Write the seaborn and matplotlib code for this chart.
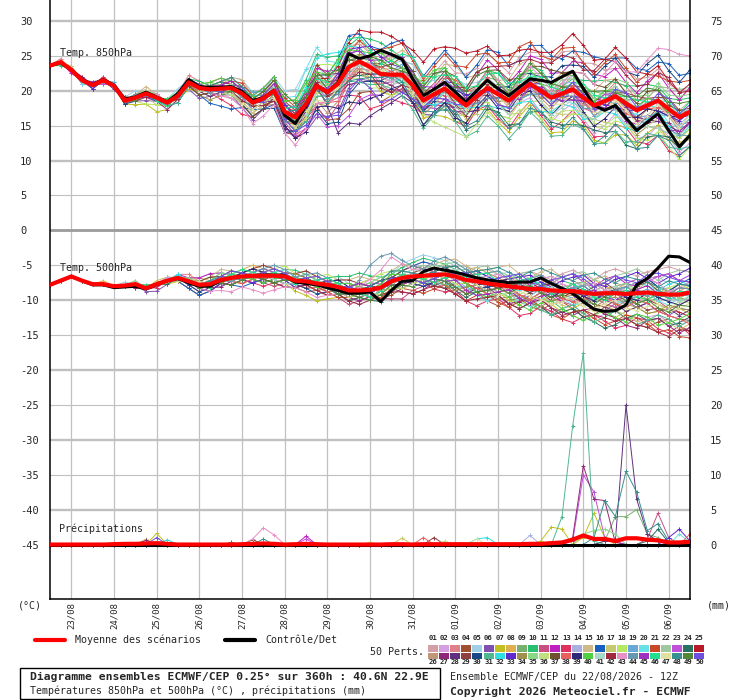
import numpy as np
import pandas as pd
import matplotlib
matplotlib.use("Agg")
import matplotlib.pyplot as plt
from matplotlib.patches import Rectangle
from matplotlib.lines import Line2D
import seaborn as sns

# échéances (h) du run 22/08 12Z
hours = list(range(0, 361, 6))

# moyenne et contrôle, T850 (°C)
mean850 = [23.6, 24.1, 23.0, 21.5, 20.8, 21.5, 20.7, 18.6, 19.0, 19.6, 19.0, 18.3, 19.3, 21.2,
           20.4, 20.2, 20.3, 20.4, 19.6, 18.3, 18.9, 20.0, 17.0, 16.2, 18.1, 20.7, 19.8, 21.0,
           23.4, 24.2, 23.4, 22.4, 22.3, 22.3, 20.8, 18.6, 19.5, 20.3, 19.1, 17.9, 19.2, 20.4,
           19.5, 18.6, 19.8, 21.0, 20.0, 19.0, 19.6, 20.2, 19.0, 17.9, 18.5, 19.2, 18.2, 17.2,
           17.9, 18.6, 17.4, 16.2, 17.0]
ctrl850 = [23.6, 24.0, 23.0, 21.6, 20.9, 21.6, 20.8, 18.8, 19.1, 19.8, 19.1, 18.4, 19.6, 21.6,
           20.6, 20.5, 20.5, 20.6, 19.9, 18.6, 19.0, 20.1, 16.5, 15.3, 17.8, 20.8, 19.8, 21.2,
           25.3, 24.6, 25.0, 25.8, 25.2, 24.5, 21.7, 19.3, 20.2, 21.2, 19.8, 18.4, 20.0, 21.5,
           20.3, 19.3, 20.5, 21.7, 21.5, 21.2, 22.0, 22.8, 20.3, 17.9, 17.2, 17.9, 16.1, 14.3,
           15.5, 16.7, 14.3, 12.0, 13.6]

# moyenne et contrôle, T500 (°C)
mean500 = [-7.8, -7.2, -6.6, -7.2, -7.7, -7.7, -8.0, -7.9, -7.7, -8.3, -7.7, -7.2, -6.8, -7.3,
           -7.8, -7.7, -7.1, -6.8, -6.6, -6.5, -6.5, -6.5, -6.6, -7.2, -7.3, -7.6, -7.8, -8.1,
           -8.6, -8.6, -8.5, -8.2, -7.3, -6.8, -6.6, -6.5, -6.4, -6.3, -6.6, -7.1, -7.3, -7.6,
           -7.8, -8.0, -8.2, -8.4, -8.4, -8.6, -8.7, -8.7, -8.9, -9.1, -9.0, -9.0, -9.1, -9.0,
           -8.9, -9.1, -9.2, -9.2, -8.9]
ctrl500 = [-7.8, -7.2, -6.6, -7.2, -7.8, -7.8, -8.2, -8.1, -8.0, -8.4, -7.8, -7.2, -6.9, -7.5,
           -8.0, -8.0, -7.2, -6.8, -6.6, -6.5, -6.4, -6.4, -6.5, -7.4, -7.6, -7.8, -8.2, -8.6,
           -9.0, -9.0, -8.8, -10.2, -8.6, -7.3, -7.2, -5.9, -5.4, -5.7, -6.0, -6.4, -6.8, -7.1,
           -7.3, -7.5, -7.4, -7.4, -6.8, -7.6, -8.3, -9.0, -10.2, -11.3, -11.6, -11.5, -10.7, -7.8,
           -6.9, -5.4, -3.7, -3.8, -4.6]

# précipitations moyenne / contrôle (mm)
mean_rr = [0.0, 0.0, 0.0, 0.0, 0.0, 0.0, 0.05, 0.1, 0.1, 0.15, 0.2, 0.1, 0.0, 0.0,
           0.0, 0.0, 0.0, 0.0, 0.05, 0.1, 0.15, 0.1, 0.0, 0.05, 0.1, 0.05, 0.0, 0.0,
           0.0, 0.0, 0.0, 0.0, 0.05, 0.05, 0.0, 0.05, 0.05, 0.05, 0.05, 0.05, 0.05, 0.05,
           0.05, 0.05, 0.05, 0.1, 0.1, 0.2, 0.3, 0.7, 1.3, 0.8, 0.8, 0.5, 0.9, 0.9,
           0.7, 0.6, 0.3, 0.3, 0.4]
ctrl_rr = [0.0] * 61

member_colors = ['#d4a0a8', '#d4a0e0', '#e08088', '#a05030', '#a0d0e8', '#8050b0', '#c0c020',
                 '#e0b050', '#78b070', '#28c070', '#c85080', '#c020c0', '#e03060', '#a8b0e0',
                 '#d0b888', '#1860c0', '#c8c870', '#b8e860', '#68a8d8', '#68e0e8', '#c84828',
                 '#a0c8a0', '#c050d8', '#287060', '#b81828', '#c09878', '#902878', '#603080',
                 '#904040', '#184888', '#50b890', '#30e0e0', '#6028d0', '#a09050', '#88d888',
                 '#c0e080', '#705030', '#e86060', '#302878', '#50d040', '#a8d8c8', '#a02840',
                 '#e890c8', '#6898b0', '#a030c0', '#20e090', '#e0e0a0', '#389090', '#508838',
                 '#7050e0']

day_hours = list(range(12, 361, 24))
day_labels = ['23/08', '24/08', '25/08', '26/08', '27/08', '28/08', '29/08', '30/08',
              '31/08', '01/09', '02/09', '03/09', '04/09', '05/09', '06/09']

# écart de chaque membre à la moyenne, en demi-degrés
dev850 = [
    [0,0,0,1,0,0,0, 1,0,-1,0,1,1,0, 0,-1,-2,-2,-3,-2,-1, 0,1,2,3,2,4,5, 6,5,4,6,5,4,6, 7,6,8,7,9,8,10, 9,8,10,9,11,10,12, 11,10,12,9,8,10,9, 8,9,7,8,6],
    [0,0,-1,0,0,0,1, 0,-1,0,0,-1,0,1, 1,0,-1,-3,-4,-3,-2, -3,-5,-6,-4,-2,-1,0, 2,1,-1,-2,-3,-2,-4, -3,-2,-4,-5,-3,-2,-4, -6,-5,-3,-4,-6,-7,-5, -4,-6,-8,-7,-5,-6,-8, -9,-7,-8,-10,-9],
    [0,1,0,0,0,1,0, 0,1,1,0,0,1,2, 2,1,2,3,2,1,2, 3,2,0,-2,1,3,4, 2,1,3,5,4,2,1, 0,-1,1,2,0,-2,-1, 1,3,2,0,-1,1,2, 4,3,1,2,4,5,3, 2,4,6,5,7],
    [0,0,0,0,-1,0,0, -1,0,0,-1,0,0,-1, -2,-1,0,1,0,-1,-2, -4,-6,-5,-3,-6,-8,-10, -12,-9,-7,-8,-6,-4,-5, -3,-2,-4,-3,-1,0,-2, -1,1,0,-2,-1,0,2, 1,-1,-3,-2,0,-1,-3, -4,-2,-1,-3,-2],
    [0,0,0,0,0,0,1, 1,2,1,0,1,2,1, 0,1,2,3,4,3,2, 4,6,8,10,6,4,3, 2,1,0,2,3,4,6, 5,4,3,5,6,4,3, 2,4,5,3,2,1,3, 4,2,0,1,3,2,0, -1,1,2,0,1],
    [0,0,0,-1,0,0,0, 0,-1,-2,-1,0,-1,-2, -3,-2,-1,-2,-4,-5,-3, -2,-4,-6,-8,-9,-7,-8, -6,-5,-4,-3,-2,-1,0, -2,-3,-1,0,-2,-4,-3, -1,0,-2,-3,-1,1,0, -2,-1,1,2,0,-1,1, 2,0,-2,-1,0],
    [0,0,1,0,0,0,0, -1,-2,-3,-4,-2,-1,-2, -1,0,-1,-2,-1,0,-1, -2,-3,-1,0,2,1,0, -1,-2,-3,-5,-6,-4,-3, -5,-6,-8,-7,-5,-4,-6, -8,-9,-7,-6,-8,-10,-11, -9,-8,-10,-12,-11,-9,-10, -8,-7,-9,-8,-6],
    [0,0,0,0,1,0,0, 0,1,0,-1,0,1,0, -1,-2,-1,0,1,2,1, 0,-1,-3,-2,0,2,3, 4,3,2,1,0,-1,1, 2,3,1,0,2,3,1, 0,-1,1,2,0,-2,-1, 0,2,1,-1,-2,0,1, -1,-2,0,1,-1],
    [0,0,0,0,0,0,0, 0,0,1,0,0,0,-1, 0,-1,-2,-1,0,-1,-2, -3,-2,-4,-5,-3,-1,0, -2,-4,-3,-1,1,2,0, -1,1,3,2,0,1,3, 4,2,1,3,5,4,2, 1,3,4,2,0,1,3, 2,0,-1,1,0],
    [0,-1,0,0,0,-1,0, 0,0,-1,0,1,0,1, 2,1,0,1,2,3,2, 1,3,5,7,9,10,8, 6,7,8,9,7,5,4, 3,5,6,4,2,3,5, 6,4,3,5,6,4,2, 3,5,7,6,4,5,7, 6,4,3,5,4],
    [0,0,0,1,0,0,0, 0,1,0,0,1,0,0, 1,2,3,2,1,0,1, 2,0,-2,-4,-6,-8,-6, -4,-2,-1,-3,-5,-4,-2, -1,0,-2,-4,-3,-1,0, -2,-4,-3,-1,0,2,1, -1,-3,-2,0,1,-1,-2, -4,-3,-1,-2,-3],
    [0,0,-1,0,0,0,0, 1,0,0,1,0,-1,0, 0,1,0,-1,-2,-1,0, 1,2,1,3,5,6,4, 3,4,2,0,-1,1,2, 4,6,5,3,4,6,8, 7,5,6,8,9,7,6, 8,10,9,7,8,6,5, 7,8,6,5,7],
    [0,0,0,0,0,1,0, -1,0,1,0,-1,0,1, 0,-1,-3,-5,-6,-4,-3, -2,-4,-6,-7,-5,-3,-4, -8,-10,-12,-9,-7,-8,-6, -4,-3,-5,-7,-6,-4,-5, -7,-8,-6,-5,-7,-9,-8, -6,-7,-9,-10,-8,-7,-9, -11,-10,-12,-11,-10],
    [0,0,0,0,0,0,0, 0,0,0,-1,0,0,0, -1,0,1,0,-1,0,1, 0,-1,0,1,2,0,-1, -2,-1,0,1,2,1,-1, -2,0,2,1,-1,-2,0, 1,3,2,0,-1,1,3, 2,0,-2,-1,1,0,-2, -3,-1,0,-2,-1],
    [0,0,1,0,0,0,0, 0,1,2,1,0,1,0, 1,2,1,3,4,2,1, 3,5,4,6,4,2,3, 5,6,4,3,5,7,8, 6,5,7,9,8,6,5, 4,6,8,7,5,4,6, 5,3,4,6,5,3,2, 4,3,1,2,3],
    [0,0,0,0,-1,0,0, 0,-1,0,0,-1,-2,-1, -2,-4,-5,-6,-4,-2,-3, -4,-2,-1,1,3,5,7, 9,8,6,7,9,10,8, 7,9,11,10,8,9,11, 12,10,9,11,13,12,10, 11,13,14,12,11,13,12, 10,11,13,12,11],
    [0,0,0,0,0,0,0, 1,0,-1,-2,-1,0,-1, 0,-1,0,-1,-2,-3,-2, -1,-3,-5,-4,-2,0,1, -1,-3,-4,-2,0,-1,-3, -4,-3,-1,-2,-4,-5,-3, -2,-4,-6,-5,-3,-4,-6, -7,-5,-4,-6,-8,-7,-5, -6,-8,-9,-7,-8],
    [0,0,0,0,0,0,0, 0,-1,-3,-2,-1,0,1, 0,1,2,1,0,-1,0, 1,0,2,4,6,8,5, 3,2,1,3,4,2,0, -2,-4,-6,-5,-3,-2,-4, -6,-5,-3,-2,-4,-6,-8, -7,-5,-6,-8,-7,-6,-8, -10,-9,-11,-12,-10],
    [0,0,0,0,0,0,1, 0,0,0,1,0,0,0, 0,1,0,1,2,3,2, 1,2,3,1,-1,0,2, 1,-1,-2,0,1,3,4, 2,1,3,2,1,-1,0, 2,1,-1,0,1,-1,-2, 0,-1,-3,-2,0,-1,-2, -3,-4,-2,-3,-4],
    [0,0,0,-1,0,0,0, 0,0,0,0,1,1,0, 1,0,-1,-2,-1,0,1, 2,4,6,10,11,9,6, 4,3,2,0,-2,-1,1, 0,-2,-1,1,0,-2,-3, -1,0,-2,-3,-1,0,-2, -4,-3,-1,0,-2,-3,-1, 0,-2,-4,-3,-2],
    [0,0,0,0,0,0,0, -1,0,0,-1,0,0,-1, -1,0,1,2,3,2,1, 2,4,3,1,-1,0,2, 4,6,5,7,8,9,7, 6,8,10,9,11,12,10, 9,11,13,12,10,11,13, 12,10,9,11,12,10,8, 9,7,8,10,9],
    [0,0,0,0,1,0,0, 0,0,1,1,0,0,1, 0,-1,0,-1,-2,-1,0, 1,0,-1,0,1,2,1, 0,-1,-2,-4,-3,-1,0, 1,0,-1,1,2,0,-1, 0,2,3,1,0,2,4, 3,1,0,2,3,1,0, 2,4,6,8,7],
    [0,0,0,0,0,-1,0, 0,0,-1,-1,0,0,0, 0,1,1,0,-1,-2,-1, -2,-3,-5,-7,-8,-10,-12, -14,-11,-8,-6,-4,-5,-3, -2,-4,-3,-1,0,-2,-3, -1,0,1,-1,-2,0,1, -1,-2,0,2,1,-1,0, 1,-1,-2,0,-1],
    [0,0,0,0,0,0,0, 0,0,0,0,0,-1,0, 1,0,-1,0,1,0,-1, -2,0,2,4,3,1,-1, -3,-4,-2,0,-1,-3,-5, -7,-6,-4,-5,-7,-8,-6, -5,-7,-9,-8,-6,-7,-9, -10,-8,-7,-9,-10,-12,-11, -9,-10,-8,-9,-7],
    [0,0,0,0,0,0,0, 0,0,0,1,0,0,0, 0,1,2,1,0,1,2, 3,2,1,0,2,4,5, 7,9,10,12,11,9,10, 11,13,12,14,15,13,12, 11,13,12,10,11,13,14, 16,15,13,12,14,13,11, 9,10,8,7,6],
    [0,0,0,0,0,0,0, 0,-1,-1,0,0,0,0, 0,-1,-2,-3,-2,-1,-2, -3,-4,-3,-2,-4,-6,-5, -3,-2,-4,-3,-1,0,-2, -1,1,0,-2,-1,1,2, 0,-1,1,0,-2,-3,-1, 0,-2,-1,1,0,-2,-3, -1,0,-2,-4,-3],
    [0,0,0,1,0,0,0, 0,0,0,-1,-2,-1,0, 0,-1,0,1,2,1,0, -1,-3,-2,0,1,-1,-3, -5,-6,-4,-2,-3,-5,-4, -2,-1,-3,-4,-2,0,-1, -3,-2,0,1,-1,-2,0, 2,1,-1,-2,0,-1,-3, -5,-6,-4,-5,-3],
    [0,0,0,0,0,0,-1, 0,0,0,0,0,1,0, -1,-2,-1,0,1,0,-1, -3,-5,-4,-2,0,-4,-14, -16,-18,-14,-10,-8,-6,-5, -4,-6,-5,-3,-2,-4,-3, -1,0,-2,-1,1,0,-2, -3,-1,0,-2,-4,-3,-2, -4,-6,-5,-4,-3],
    [0,0,0,0,0,0,0, 0,1,0,0,0,0,-1, 0,0,1,0,0,-1,0, 1,3,2,4,6,5,3, 2,0,1,3,2,0,-2, -3,-1,0,-2,-3,-1,1, 0,-2,-1,1,2,0,-1, 1,3,2,0,1,3,4, 2,1,3,2,1],
    [0,0,0,0,0,0,0, -1,-1,0,0,-1,0,0, 0,-1,-2,-1,-3,-4,-3, -5,-6,-4,-5,-7,-9,-11, -8,-6,-4,-2,0,1,-1, -3,-2,0,2,3,1,0, 2,4,5,3,4,6,8, 7,9,8,10,11,9,10, 12,13,11,10,12],
    [0,0,0,0,0,0,0, 0,0,0,-1,-1,-2,-1, 0,1,0,-1,-2,-1,0, -1,-2,-4,-5,-3,-1,-2, -4,-6,-5,-3,-4,-6,-7, -8,-6,-5,-7,-9,-10,-8, -9,-11,-10,-8,-9,-11,-12, -10,-9,-11,-12,-10,-11,-9, -8,-10,-11,-9,-10],
    [0,0,0,0,0,0,0, 0,0,0,0,1,0,0, 0,1,0,0,1,2,1, 2,1,3,5,8,11,9, 6,4,2,0,-1,-2,0, -1,-3,-4,-2,-1,-3,-5, -4,-2,-3,-5,-6,-4,-3, -5,-6,-4,-3,-5,-7,-6, -4,-3,-5,-6,-4],
    [0,0,0,0,-1,0,0, 0,0,-1,-1,0,0,0, 1,0,1,2,1,2,3, 4,2,0,-2,-1,1,3, 5,4,6,5,3,2,4, 3,1,2,4,3,1,0, 2,1,-1,0,2,1,-1, -2,0,1,-1,-3,-2,0, -1,-3,-2,-1,0],
    [0,0,0,0,0,0,0, 0,0,0,0,0,-1,-1, -2,-3,-2,-1,0,-1,-2, -1,0,-1,-3,-5,-4,-2, 0,2,3,1,-1,0,2, 3,1,-1,0,2,1,-1, -2,0,-1,-3,-2,0,-1, -3,-5,-4,-2,-3,-5,-7, -6,-8,-7,-6,-5],
    [0,0,0,0,0,0,0, 0,1,1,0,0,0,1, 1,2,1,0,-1,0,1, 0,-2,-1,1,3,2,0, -1,1,3,2,0,-2,-1, 1,2,0,-1,1,3,2, 0,1,3,4,2,1,3, 5,4,2,3,5,6,4, 3,5,4,6,5],
    [0,0,0,0,0,0,0, 0,-1,0,1,0,0,0, -1,0,-1,-2,-3,-2,-1, 0,-1,-3,-4,-2,0,-1, -3,-5,-6,-4,-6,-5,-3, -4,-8,-11,-10,-9,-8,-7, -8,-6,-5,-7,-8,-6,-5, -6,-4,-5,-7,-6,-4,-5, -6,-5,-7,-6,-5],
    [0,0,0,0,0,0,0, 1,0,0,0,0,0,-1, -2,-1,0,-1,-3,-4,-3, -2,-1,1,2,4,3,1, 0,-1,1,2,3,5,4, 2,3,5,6,4,3,5, 7,6,4,5,7,8,6, 5,7,6,4,5,3,2, 4,3,1,2,0],
    [0,0,0,0,0,0,0, 0,0,1,0,-1,0,0, 0,0,1,0,-1,0,1, -1,-3,-2,0,-1,-3,-5, -3,-1,0,2,1,-1,0, 2,1,3,5,4,2,3, 1,0,2,1,-1,0,2, 1,-1,-2,0,-1,-3,-2, -1,-2,0,1,0],
    [0,0,0,0,0,0,0, 0,0,0,-1,0,0,0, 0,0,-1,0,1,0,-1, -2,-4,-6,-8,-6,-4,-7, -10,-12,-9,-6,-4,-3,-5, -7,-5,-4,-6,-5,-3,-2, -4,-3,-1,-2,-4,-5,-3, -2,-4,-6,-5,-3,-4,-2, -1,-3,-2,0,-1],
    [0,0,0,0,0,0,0, 0,0,0,0,1,1,0, 1,2,3,2,1,2,3, 4,3,5,6,4,5,7, 5,3,4,6,4,2,3, 5,7,6,4,5,7,6, 4,3,5,4,2,3,5, 4,2,1,3,2,0,1, 2,0,-1,1,-1],
    [0,0,0,0,0,0,0, 0,0,0,0,0,0,0, 0,-1,0,1,0,-1,0, 1,0,-2,-3,-1,1,0, -2,-1,1,0,-2,-1,1, 2,0,-1,-3,-2,0,-1, -3,-4,-2,-1,-3,-5,-4, -3,-5,-4,-2,-4,-6,-5, -6,-8,-7,-5,-4],
    [0,0,0,0,0,0,0, 0,-1,-1,0,0,-1,0, 0,1,0,-1,-2,-1,-2, -3,-2,0,2,1,-1,-2, -4,-3,-2,-4,-5,-3,-1, 0,2,4,3,5,7,6, 8,10,9,7,8,10,11, 9,8,10,12,10,8,7, 6,8,9,7,8],
    [0,0,0,0,0,0,0, 0,0,0,1,0,0,0, 0,-1,-2,-3,-4,-6,-5, -4,-6,-8,-7,-5,-3,-4, -2,0,1,-1,-2,0,2, 1,3,2,0,1,3,5, 4,2,3,5,4,2,3, 5,7,6,8,10,9,11, 13,15,17,18,16],
    [0,0,0,0,0,0,0, 0,1,0,0,0,0,0, 0,-1,0,0,-1,-2,-1, -2,-3,-1,1,0,-2,-3, -1,1,2,0,-1,1,3, 2,0,-1,1,0,-2,-3, -1,0,-2,-3,-1,1,0, -2,-3,-1,0,-2,-4,-5, -3,-4,-6,-5,-7],
    [0,0,0,0,1,0,0, 0,0,0,0,0,0,1, 1,0,1,2,1,0,1, 2,1,3,2,0,1,2, 4,3,2,4,6,5,3, 4,2,1,3,2,0,-1, 1,0,-2,-1,1,0,-2, -3,-1,0,-2,-3,-5,-4, -3,-5,-6,-4,-3],
    [0,0,0,0,0,0,0, 0,0,0,-1,-1,0,0, 0,0,0,-1,0,1,0, -1,1,3,4,2,3,6, 8,7,5,3,4,6,8, 7,5,4,6,5,3,4, 6,5,3,2,4,3,1, 2,4,3,1,0,2,3, 1,0,2,1,3],
    [0,0,0,0,0,0,0, 0,0,1,0,0,0,0, 0,1,0,-1,-3,-2,-1, -2,-1,0,-2,-4,-3,-1, 1,0,-1,1,2,0,-2, -1,1,2,0,-1,1,2, 0,-2,-1,1,0,-2,-3, -1,0,-2,-3,-1,-2,-4, -3,-1,-2,-3,-1],
    [0,0,0,0,0,0,0, 0,0,0,0,0,1,1, 0,1,2,3,2,1,0, -1,0,2,1,-1,-3,-2, -4,-5,-3,-1,0,-2,-4, -3,-5,-6,-4,-6,-7,-5, -6,-8,-9,-7,-6,-8,-10, -8,-9,-11,-10,-8,-9,-11, -12,-10,-9,-11,-10],
    [0,0,0,0,0,0,0, 0,-1,0,0,0,0,0, 0,0,-1,-1,0,1,2, 3,5,4,2,3,5,4, 2,1,3,4,2,1,3, 4,6,5,3,4,6,5, 3,2,4,6,5,4,2, 0,2,4,3,1,2,4, 5,3,2,4,3],
    [0,0,0,0,0,0,0, 0,0,0,0,0,0,0, 1,0,-1,0,1,0,-1, 0,-2,-4,-6,-8,-7,-9, -7,-5,-6,-8,-7,-5,-4, -2,-1,-3,-2,0,1,-1, -3,-2,0,1,-1,-2,0, 2,1,-1,0,2,3,1, 0,2,3,1,2],
]

dev500 = [
    [0,0,0,0,0,0,0, 0,0,0,0,1,0,0, -1,0,1,0,-1,0,1, 2,1,0,1,2,1,0, -1,0,1,2,1,0,1, 2,3,2,1,2,3,4, 3,2,4,5,4,3,5, 6,5,4,6,7,6,5, 6,7,8,7,6],
    [0,0,0,0,0,0,0, 0,0,0,-1,0,0,-1, 0,-1,-2,-1,0,-1,-2, -1,0,-1,-2,-1,0,-1, -2,-3,-2,-1,-2,-3,-2, -1,-2,-3,-4,-3,-2,-3, -4,-5,-4,-3,-5,-6,-5, -4,-6,-7,-6,-5,-7,-8, -7,-6,-8,-9,-8],
    [0,0,0,0,0,0,0, 0,0,0,0,0,1,2, 1,2,1,0,1,2,1, 0,1,2,1,0,-1,0, 1,2,3,2,1,2,3, 4,3,2,3,4,2,1, 2,3,1,0,2,3,1, 0,-1,1,2,0,-1,1, 2,0,-1,1,2],
    [0,0,0,0,0,0,0, 0,-1,0,0,0,-1,-2, -3,-2,-1,0,-1,-2,-1, 0,-1,-2,-3,-2,-1,-2, -3,-2,-1,-3,-4,-3,-2, -1,-3,-4,-2,-1,-3,-5, -6,-4,-3,-5,-6,-4,-3, -5,-7,-6,-4,-5,-7,-9, -10,-8,-7,-9,-11],
    [0,0,0,0,0,0,0, 1,0,0,0,0,0,1, 2,3,2,1,2,1,0, 1,2,1,0,1,2,3, 2,1,2,3,2,4,5, 6,5,4,3,4,3,2, 3,4,2,1,3,4,2, 1,3,2,0,1,3,2, 4,5,3,4,5],
    [0,0,0,0,0,0,0, 0,0,-1,-2,-1,0,0, -1,0,1,0,-1,-2,-1, -2,-3,-2,-1,0,-1,-2, -1,0,1,0,-1,0,1, 0,-1,0,1,0,-1,-2, -1,0,-2,-3,-1,0,-2, -3,-2,-4,-5,-3,-2,-4, -3,-5,-6,-4,-5],
    [0,0,0,0,0,0,0, 0,0,0,0,-1,-1,0, 0,-1,0,-1,-2,-1,0, -1,-2,-3,-4,-5,-4,-3, -2,-1,0,-1,-2,-1,0, 1,0,-1,-2,-3,-2,-1, -2,-4,-5,-3,-2,-4,-6, -5,-3,-4,-6,-7,-5,-4, -6,-5,-3,-4,-6],
    [0,0,0,0,0,1,0, 0,0,0,1,1,0,1, 2,1,0,1,2,3,2, 1,0,1,2,1,0,1, 2,1,0,-1,0,1,0, -1,0,1,2,3,4,3, 2,1,0,2,3,1,0, 2,3,4,2,1,3,4, 3,2,1,3,2],
    [0,0,0,0,0,0,0, 0,0,0,0,0,-1,0, 1,0,-1,0,1,0,-1, 0,1,0,-1,-2,-1,0, 1,0,-1,-2,-3,-2,-1, -2,-3,-4,-3,-2,-1,-2, -3,-2,0,1,-1,-2,0, 1,-1,-2,0,1,-1,-3, -2,0,1,-1,0],
    [0,0,0,0,0,0,0, 0,0,1,0,0,0,0, 0,1,2,1,0,1,2, 1,2,3,2,1,2,3, 4,5,4,3,2,3,4, 5,4,3,2,1,2,0, -1,1,2,0,-1,1,3, 2,0,-2,-1,1,0,-2, -3,-1,0,-2,-1],
    [0,0,0,0,0,0,0, 0,0,0,0,0,0,-1, -2,-1,0,-1,-2,-1,-2, -3,-2,-1,0,-1,-2,-3, -4,-3,-2,-3,-5,-6,-4, -3,-2,-4,-5,-3,-2,-1, 0,-2,-3,-1,0,-2,-3, -4,-2,-1,-3,-4,-2,-1, 0,-2,-4,-3,-2],
    [0,0,0,0,0,0,0, 0,0,0,0,0,1,1, 2,3,2,1,0,1,0, 1,0,-1,0,1,2,1, 0,1,2,1,0,-1,-2, -3,-2,-1,0,1,0,-1, 1,2,3,1,0,2,4, 5,3,2,4,5,3,2, 4,5,6,4,3],
    [0,0,0,0,0,0,0, 0,0,0,-1,0,0,0, -1,-2,-1,0,-1,-2,-3, -2,-1,0,-1,-2,-3,-2, -1,0,-1,-2,-1,0,-1, -2,-4,-5,-4,-6,-7,-5, -4,-6,-8,-7,-5,-6,-8, -9,-7,-6,-8,-10,-9,-7, -8,-10,-11,-9,-12],
    [0,0,0,0,0,0,0, 0,0,0,0,1,0,0, 0,1,0,-1,0,1,0, -1,0,1,0,-1,0,1, 0,-1,0,1,0,-1,0, 1,0,-1,0,1,0,-1, -2,-1,0,1,0,-1,0, 1,2,0,-1,1,2,0, -1,1,2,0,1],
    [0,0,0,0,0,0,0, 0,1,0,0,0,0,0, 1,2,3,2,1,2,3, 2,1,2,3,2,1,2, 3,4,3,2,3,4,3, 2,3,4,5,4,3,4, 5,6,4,3,5,6,4, 3,2,4,5,3,2,1, 3,2,0,1,2],
    [0,0,0,0,0,0,0, 0,0,0,0,0,-1,-2, -3,-2,-1,-2,-3,-2,-1, 0,1,0,-1,0,1,0, -1,-2,-1,0,1,2,3, 4,3,2,1,2,3,2, 1,0,2,3,1,0,-1, 1,2,0,-1,1,2,3, 4,2,1,3,4],
    [0,0,0,0,0,0,0, 0,0,0,0,-1,0,0, 0,0,1,0,-1,0,-1, -2,-1,0,-1,-2,-1,0, 1,0,-1,-2,-1,0,-1, 0,-1,-2,-3,-4,-3,-2, -1,-2,-4,-5,-3,-2,-4, -5,-6,-4,-3,-5,-6,-8, -9,-7,-8,-10,-9],
    [0,0,0,0,0,0,0, 0,0,0,0,0,0,1, 1,0,1,2,1,0,1, 2,3,2,1,2,3,2, 1,2,3,4,3,2,1, 0,1,2,1,0,-1,0, 1,-1,-2,0,1,-1,-2, 0,1,-1,-2,0,2,1, -1,0,2,3,1],
    [0,0,0,0,0,0,0, 0,0,0,0,0,0,0, -1,0,1,0,-1,0,1, 0,-1,-2,-1,0,1,0, -1,0,1,2,1,0,-1, -2,-1,0,-1,-2,-3,-1, 0,-1,-3,-2,0,1,-1, -2,0,1,-1,-3,-2,0, 1,-1,-2,0,-1],
    [0,0,0,0,0,0,0, 0,0,0,0,0,1,0, 0,-1,0,1,0,-1,0, 1,2,1,0,1,0,-1, 0,1,0,-1,-2,-1,0, -1,-3,-4,-3,-2,-4,-5, -3,-2,-4,-5,-3,-1,-2, -4,-3,-1,0,-2,-3,-1, 0,-2,-3,-1,-2],
    [0,0,0,0,0,0,0, 0,0,0,0,0,0,-1, 0,-1,0,1,0,-1,-2, -1,0,-1,-2,-1,-2,-3, -2,-1,-2,-3,-2,-3,-4, -5,-4,-3,-5,-6,-4,-3, -5,-6,-4,-3,-5,-7,-8, -6,-5,-7,-9,-8,-6,-7, -9,-11,-10,-12,-13],
    [0,0,0,0,0,0,0, 0,1,0,0,0,0,0, 1,0,-1,0,1,2,1, 0,-1,0,1,0,1,2, 1,0,1,2,3,2,1, 2,3,2,1,2,4,5, 3,2,4,5,3,2,4, 5,6,4,3,5,6,7, 5,4,6,7,6],
    [0,0,0,0,0,0,0, 0,0,0,0,0,0,1, 0,-1,0,1,0,1,2, 1,0,1,0,-1,0,1, 2,1,0,-1,0,1,2, 3,2,1,0,-1,-2,-1, 0,-1,1,2,0,-1,1, 2,3,1,0,2,3,4, 3,5,6,4,5],
    [0,0,0,0,0,0,0, 0,0,0,0,-1,0,0, -1,0,-1,-2,-1,0,-1, -2,-1,0,1,0,-1,-2, -3,-2,-3,-4,-3,-2,-1, -2,-3,-2,-4,-5,-3,-2, -3,-5,-6,-4,-5,-7,-6, -5,-7,-8,-10,-9,-7,-6, -8,-7,-9,-8,-7],
    [0,0,0,0,0,0,0, 0,0,0,0,0,0,0, 0,1,0,0,1,0,-1, 0,1,0,-1,0,1,0, -1,0,1,0,-1,-2,-1, 0,1,0,-1,0,1,0, -1,0,1,2,0,-1,-2, 0,1,-1,-2,0,1,0, -2,-3,-4,-5,-7],
    [0,0,0,0,0,0,0, 0,0,0,0,0,0,0, 0,1,0,-1,0,-1,0, 1,0,-1,-2,-1,0,-1, 0,1,0,1,2,1,0, 1,2,1,0,1,2,3, 2,1,0,1,2,0,-1, 1,0,-1,1,2,0,-1, -2,0,1,-1,-2],
    [0,0,0,0,0,0,0, 0,-1,0,0,0,-1,0, 0,-1,-2,-1,0,-1,0, -1,-2,-1,0,-1,-2,-1, -2,-3,-2,-1,-2,-4,-5, -4,-2,-1,-3,-4,-2,-1, -3,-5,-4,-2,-3,-5,-6, -7,-5,-4,-6,-7,-9,-10, -8,-7,-9,-11,-10],
    [0,0,0,0,0,0,0, 0,0,0,0,0,0,0, -1,0,1,0,-1,0,1, 0,1,2,1,0,-1,0, 1,0,-1,0,1,0,-1, -2,-1,0,1,0,-1,-2, -1,0,-2,-3,-1,0,-2, -3,-1,0,-2,-3,-5,-4, -3,-5,-4,-6,-5],
    [0,0,0,0,0,0,0, 0,0,0,0,0,-1,0, 1,0,1,2,1,2,3, 2,1,2,3,2,1,2, 3,2,1,2,1,0,1, 2,1,0,2,3,1,0, -1,1,2,0,-1,-3,-2, 0,-1,-3,-4,-2,-1,-3, -5,-4,-6,-7,-8],
    [0,0,0,0,0,0,0, 0,0,0,0,0,0,-1, -2,-1,0,-1,0,-1,-2, -1,0,-1,-2,-3,-2,-1, 0,-1,-2,-1,0,-1,-2, -3,-2,-1,0,-1,-2,-1, 0,1,0,-1,1,2,1, 0,2,3,1,0,2,3, 4,2,1,3,2],
    [0,0,0,0,0,0,0, 0,0,0,0,0,0,0, 0,0,-1,0,1,0,0, -1,0,1,0,-1,0,1, 0,-1,0,-1,-2,-1,0, -1,-2,-3,-2,-1,-3,-4, -2,-1,-3,-4,-6,-7,-5, -4,-6,-8,-7,-5,-7,-9, -8,-6,-7,-9,-8],
    [0,0,0,0,0,0,0, 0,0,0,0,0,1,0, 0,1,0,0,-1,0,1, 0,-1,0,1,0,-1,0, 1,0,-1,-2,-1,0,1, 0,-1,-2,-1,0,1,2, 1,0,-1,1,2,0,-1, 1,2,3,1,0,2,3, 2,1,3,4,2],
    [0,0,0,0,0,0,0, 0,0,0,0,0,0,0, -1,-2,-1,0,-1,-2,-1, 0,-1,-2,-1,0,-1,-2, -1,0,1,0,-1,0,1, 0,-1,0,1,2,3,2, 1,2,3,4,2,1,3, 4,5,3,2,4,5,6, 4,3,5,6,7],
    [0,0,0,0,0,0,0, 0,0,0,0,0,0,0, 1,0,-1,0,1,0,-1, 0,1,2,1,0,1,0, -1,-2,-1,-2,-3,-2,-1, -2,-1,-3,-4,-2,-1,-3, -4,-3,-2,-4,-5,-3,-2, -1,-3,-4,-2,-1,-3,-4, -6,-5,-3,-4,-5],
    [0,0,0,0,0,0,0, 0,0,0,0,0,0,1, 0,1,2,1,0,1,0, -1,0,1,2,1,0,1, 2,1,2,3,2,1,2, 3,2,3,4,3,2,3, 4,3,2,3,4,2,1, 2,3,1,0,2,3,1, 0,2,1,-1,0],
    [0,0,0,0,0,0,0, 0,0,0,0,0,-1,0, 0,-1,0,1,0,-1,0, 1,0,-1,0,1,0,-1, -2,-1,0,-1,-2,-3,-2, -1,0,-1,-2,-1,0,1, 0,-1,-2,-3,-1,0,-1, -3,-4,-2,-1,-3,-4,-2, -1,-3,-4,-2,-3],
    [0,0,0,0,0,0,0, 0,0,0,0,0,0,0, 1,2,1,0,1,2,1, 2,1,0,1,2,1,0, 1,2,1,0,1,2,3, 2,1,2,3,2,1,0, 1,2,0,-1,1,2,0, -1,0,2,3,1,0,2, 3,1,0,2,1],
    [0,0,0,0,0,0,0, 0,0,0,0,0,0,0, 0,-1,0,-1,-2,-1,0, -1,0,1,0,-1,-2,-1, 0,1,0,-1,0,1,0, -1,-2,-1,0,-1,-2,-3, -2,-1,-2,-3,-1,0,-2, -3,-2,0,-1,-3,-4,-2, -3,-5,-6,-7,-9],
    [0,0,0,0,0,0,0, 0,0,0,0,0,0,0, 0,0,1,0,1,2,1, 0,1,0,-1,0,1,2, 1,0,1,2,1,0,-1, 0,1,2,1,0,-1,0, 1,2,1,0,-1,-2,0, 1,-1,-2,0,1,-1,-2, 0,-1,-2,-3,-2],
    [0,0,0,0,0,0,0, 0,0,0,0,0,0,0, 0,0,0,1,0,-1,-2, -1,0,1,0,-1,0,1, 2,1,0,1,2,1,0, -1,0,1,0,-1,-3,-4, -2,-3,-5,-6,-4,-3,-5, -7,-8,-6,-5,-7,-8,-6, -7,-9,-8,-7,-6],
    [0,0,0,0,0,0,0, 0,0,0,0,0,0,0, 0,1,0,-1,0,1,0, -1,-2,-1,0,1,0,-1, 0,-1,-2,-1,0,1,2, 1,0,1,2,3,2,1, 0,1,2,0,-1,1,2, 1,0,-1,0,2,1,-1, 0,1,-1,-2,-1],
    [0,0,0,0,0,0,0, 0,0,0,0,0,0,0, 0,0,-1,-2,-1,0,-1, -2,-3,-2,-1,-2,-3,-2, -3,-4,-3,-2,-3,-4,-5, -4,-3,-4,-5,-6,-5,-4, -3,-5,-6,-4,-3,-5,-7, -6,-5,-6,-7,-8,-7,-9, -10,-11,-12,-10,-11],
    [0,0,0,0,0,0,0, 0,0,0,0,0,0,0, -1,-2,-3,-4,-3,-4,-5, -4,-3,-2,-3,-4,-3,-2, -1,1,3,5,7,4,2, 2,1,0,-1,0,1,2, 3,2,1,2,3,4,2, 1,2,3,1,0,2,3, 4,3,1,2,3],
    [0,0,0,0,0,0,0, 0,0,0,0,0,0,0, 0,1,0,-1,0,1,2, 3,2,1,2,3,2,1, 0,3,7,9,8,5,3, 2,4,5,4,3,2,3, 4,2,1,3,4,2,0, 1,2,0,-1,1,2,0, -1,1,0,2,1],
    [0,0,0,0,0,0,0, 0,0,0,0,0,0,0, 0,0,1,0,-1,0,1, 0,-1,0,1,0,-1,0, 1,2,1,0,-1,-2,-1, 0,-1,-2,-1,-3,-4,-3, -2,-1,-3,-4,-2,-1,-3, -2,0,1,-1,-2,0,1, 2,0,-1,1,0],
    [0,0,0,0,0,0,0, 0,0,0,0,0,0,0, 0,-1,0,1,2,1,0, 1,0,-1,0,1,2,1, 0,-1,-2,-1,0,1,0, -1,-2,-1,0,1,2,3, 1,0,2,3,1,-1,0, 2,1,-1,-2,0,1,-1, -2,0,-1,1,0],
    [0,0,0,0,0,0,0, 0,0,0,0,0,0,0, 1,0,1,0,-1,0,1, 2,1,0,1,2,1,0, -1,0,-1,-2,-1,0,1, 0,-1,0,1,0,-1,-2, -3,-2,-1,-2,-3,-4,-3, -2,-4,-5,-3,-2,-4,-5, -4,-3,-5,-4,-3],
    [0,0,0,0,0,0,0, 0,0,0,0,0,0,0, 0,1,1,0,-1,0,1, 0,-1,0,1,0,-1,-2, -1,0,1,2,3,2,1, 0,1,2,3,2,3,4, 5,4,3,5,6,5,4, 3,5,6,4,3,5,4, 3,2,4,3,2],
    [0,0,0,0,0,0,0, 0,0,0,0,0,0,0, -1,0,-1,-2,-1,0,-1, -2,-1,0,1,0,-1,-2, -1,-2,-3,-2,-1,-2,-3, -2,-1,-2,-3,-4,-3,-2, -1,-2,0,1,-1,-2,-1, 0,-2,-3,-1,0,-2,-3, -2,-4,-5,-3,-4],
    [0,0,0,0,0,0,0, 0,0,0,0,0,0,0, 0,0,1,2,1,0,1, 2,1,0,1,2,1,0, 1,0,-1,0,1,0,-1, -2,-1,0,1,2,1,0, 2,3,4,2,1,3,4, 5,4,2,3,5,4,3, 5,6,5,4,3],
]

# pics de précipitations par membre : (membre, échéance h, mm)
rr_spikes = [
    (1, 36, 0.3), (27, 54, 0.6), (17, 54, 0.8), (7, 60, 1.6), (50, 60, 1.0), (32, 66, 0.7),
    (4, 102, 0.3), (43, 114, 0.8), (37, 114, 0.7), (43, 120, 2.4), (48, 120, 0.8), (43, 126, 1.4),
    (12, 144, 1.2), (23, 144, 0.8), (17, 180, 0.3), (17, 198, 0.9), (38, 210, 1.0), (29, 216, 1.0),
    (36, 222, 0.5), (47, 240, 0.8), (32, 240, 0.8), (32, 246, 1.0), (14, 270, 1.3),
    (7, 276, 0.5), (7, 282, 2.5), (7, 288, 2.2), (7, 300, 1.0), (7, 306, 4.5), (7, 312, 1.0),
    (31, 288, 4.0), (31, 294, 17.0), (31, 300, 27.5), (31, 306, 0.5),
    (27, 294, 1.0), (27, 300, 11.3), (27, 306, 6.5), (27, 312, 6.3), (27, 318, 0.3),
    (23, 294, 0.5), (23, 300, 10.0), (23, 306, 7.5), (23, 312, 1.0), (23, 318, 0.5),
    (28, 312, 0.5), (28, 318, 0.5), (28, 324, 20.0), (28, 330, 6.5), (28, 336, 1.5), (28, 342, 0.5),
    (48, 306, 1.0), (48, 312, 6.3), (48, 318, 4.0), (48, 324, 10.5), (48, 330, 7.5),
    (48, 336, 2.0), (48, 342, 3.0), (48, 348, 0.5),
    (35, 300, 1.5), (35, 306, 2.0), (35, 312, 2.2), (35, 318, 1.5),
    (9, 312, 0.5), (9, 318, 4.0), (9, 324, 4.0), (9, 330, 5.0), (9, 336, 1.5), (9, 342, 1.0),
    (11, 336, 0.8), (11, 342, 4.5), (11, 348, 1.0), (24, 336, 0.5), (24, 342, 2.2), (24, 348, 0.3),
    (33, 348, 1.0), (33, 354, 2.2), (33, 360, 0.5), (20, 354, 1.5), (20, 360, 0.3), (38, 360, 1.5),
]

for row in dev850 + dev500:
    assert len(row) == len(hours), len(row)

# --- tableau long ---
rr_members = np.zeros((50, len(hours)))
for m, h, mm in rr_spikes:
    rr_members[m - 1, h // 6] = mm

rows = []
for k in range(50):
    name = f"{k + 1:02d}"
    for i, h in enumerate(hours):
        rows.append((name, h,
                     mean850[i] + 0.5 * dev850[k][i],
                     mean500[i] + 0.5 * dev500[k][i],
                     rr_members[k, i] - 45))
df = pd.DataFrame(rows, columns=['membre', 'h', 't850', 't500', 'rr'])

df_moy = pd.DataFrame({'h': hours, 't850': mean850, 't500': mean500,
                       'rr': [v - 45 for v in mean_rr]})
df_ctl = pd.DataFrame({'h': hours, 't850': ctrl850, 't500': ctrl500,
                       'rr': [v - 45 for v in ctrl_rr]})

palette = {f"{k + 1:02d}": c for k, c in enumerate(member_colors)}

sns.set_style("white")
plt.rcParams['font.family'] = ['DejaVu Sans Mono']

W, H = 740, 700
fig = plt.figure(figsize=(W / 100, H / 100), dpi=100)
ax = fig.add_axes([50 / W, 1 - 599 / H, 640 / W, 599 / H])

y_lo, y_hi = -52.8, 33.0
ax.set_xlim(0, 360)
ax.set_ylim(y_lo, y_hi)

# grille
for d in day_hours:
    ax.axvline(d, color='#c0c0c0', lw=0.9, zorder=0)
for v in range(-45, 31, 5):
    if v == 0:
        ax.axhline(v, color='#9a9a9a', lw=2.0, zorder=0)
    else:
        ax.axhline(v, color='#c0c0c0', lw=1.7 if v % 10 == 0 else 0.8, zorder=0)

# membres
for col in ['rr', 't500', 't850']:
    sns.lineplot(data=df, x='h', y=col, hue='membre', palette=palette, estimator=None,
                 legend=False, lw=0.7, marker='+', markersize=3, ax=ax, zorder=2)
for ln in ax.get_lines():
    if ln.get_marker() == '+':
        ln.set_markeredgecolor(ln.get_color())
        ln.set_markeredgewidth(0.7)

# contrôle puis moyenne
for col in ['t850', 't500', 'rr']:
    sns.lineplot(data=df_ctl, x='h', y=col, color='black', lw=2.2, ax=ax, zorder=3)
for col in ['t850', 't500', 'rr']:
    sns.lineplot(data=df_moy, x='h', y=col, color='#ff0000', lw=3.0, ax=ax, zorder=4)

ax.set_xlabel('')
ax.set_ylabel('')
ax.set_xticks(day_hours)
ax.set_xticklabels(day_labels, rotation=90, fontsize=6.5)
ax.set_yticks(list(range(-45, 31, 5)))
ax.set_yticklabels([str(v) for v in range(-45, 31, 5)], fontsize=7.5)
ax.tick_params(axis='x', length=0, pad=2)
ax.tick_params(axis='y', length=0, pad=21.6)
for lab in ax.get_yticklabels():
    lab.set_horizontalalignment('left')

ax2 = ax.twinx()
ax2.set_ylim(y_lo + 45, y_hi + 45)
ax2.set_yticks(list(range(0, 76, 5)))
ax2.set_yticklabels([str(v) for v in range(0, 76, 5)], fontsize=7.5)
ax2.tick_params(axis='y', length=0, pad=14.4)
for s in ax2.spines.values():
    s.set_visible(False)

ax.spines['top'].set_visible(False)
for s in ['left', 'right', 'bottom']:
    ax.spines[s].set_color('black')
    ax.spines[s].set_linewidth(1.1)


def px(x, y):
    return x / W, 1 - y / H


fig.text(*px(60, 53), 'Temp. 850hPa', fontsize=7.2, va='center')
fig.text(*px(60, 268), 'Temp. 500hPa', fontsize=7.2, va='center')
fig.text(*px(59, 529), 'Précipitations', fontsize=7.2, va='center')
fig.text(*px(18, 606), '(°C)', fontsize=7.2, va='center')
fig.text(*px(707, 606), '(mm)', fontsize=7.2, va='center')

# légende
fig.add_artist(Line2D([35 / W, 65 / W], [1 - 640 / H] * 2, color='#ff0000', lw=3))
fig.text(*px(75, 640), 'Moyenne des scénarios', fontsize=7.2, va='center')
fig.add_artist(Line2D([225 / W, 255 / W], [1 - 640 / H] * 2, color='black', lw=3))
fig.text(*px(265, 640), 'Contrôle/Det', fontsize=7.2, va='center')
fig.text(*px(370, 652), '50 Perts.', fontsize=7.2, va='center')

for i in range(25):
    x0 = 428 + 11.1 * i
    fig.add_artist(Rectangle(px(x0, 652), 10 / W, 7 / H, transform=fig.transFigure,
                             facecolor=member_colors[i], edgecolor='none'))
    fig.add_artist(Rectangle(px(x0, 659), 10 / W, 6 / H, transform=fig.transFigure,
                             facecolor=member_colors[25 + i], edgecolor='none'))
    fig.text(*px(x0 + 5, 637.5), f"{i + 1:02d}", fontsize=5.2, fontweight='bold',
             ha='center', va='center')
    fig.text(*px(x0 + 5, 662.5), f"{i + 26:02d}", fontsize=5.2, fontweight='bold',
             ha='center', va='center')

# cartouche
fig.add_artist(Rectangle(px(20, 699), 420 / W, 31 / H, transform=fig.transFigure,
                         facecolor='none', edgecolor='black', lw=1))
fig.text(*px(30, 677), 'Diagramme ensembles ECMWF/CEP 0.25° sur 360h : 40.6N 22.9E',
         fontsize=8.2, fontweight='bold', va='center')
fig.text(*px(30, 691), 'Températures 850hPa et 500hPa (°C) , précipitations (mm)',
         fontsize=7.2, va='center')
fig.text(*px(450, 677), 'Ensemble ECMWF/CEP du 22/08/2026 - 12Z', fontsize=7.2, va='center')
fig.text(*px(450, 692), 'Copyright 2026 Meteociel.fr - ECMWF', fontsize=8.2,
         fontweight='bold', va='center')

fig.savefig('out.png', dpi=100)
